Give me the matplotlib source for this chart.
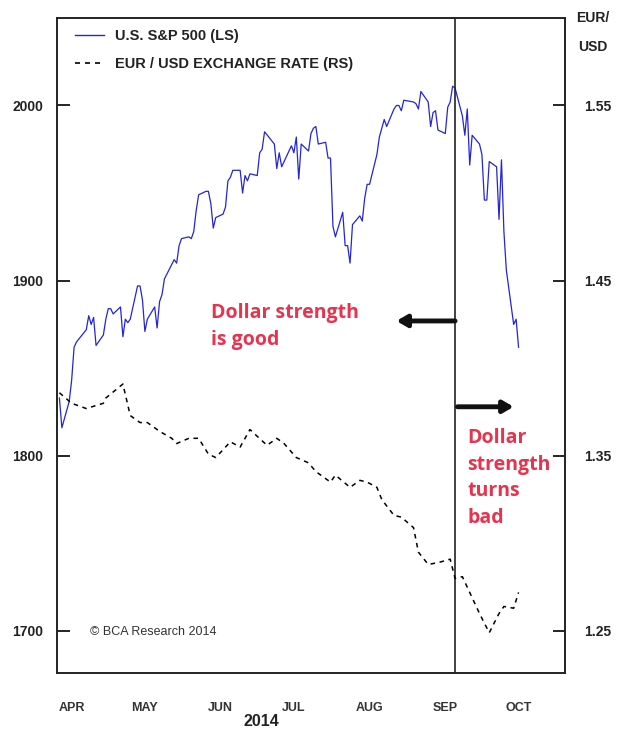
import matplotlib
matplotlib.use('Agg')
import matplotlib.pyplot as plt
from matplotlib.lines import Line2D
import pandas as pd

plt.rcParams['font.family'] = ['Liberation Sans', 'DejaVu Sans']

# S&P 500 daily closes, Apr 10 - Oct 15 2014
spx_dates = [
    '2014-04-10', '2014-04-11', '2014-04-14', '2014-04-15', '2014-04-16', '2014-04-17',
    '2014-04-21', '2014-04-22', '2014-04-23', '2014-04-24', '2014-04-25', '2014-04-28',
    '2014-04-29', '2014-04-30', '2014-05-01', '2014-05-02', '2014-05-05', '2014-05-06',
    '2014-05-07', '2014-05-08', '2014-05-09', '2014-05-12', '2014-05-13', '2014-05-14',
    '2014-05-15', '2014-05-16', '2014-05-19', '2014-05-20', '2014-05-21', '2014-05-22',
    '2014-05-23', '2014-05-27', '2014-05-28', '2014-05-29', '2014-05-30', '2014-06-02',
    '2014-06-03', '2014-06-04', '2014-06-05', '2014-06-06', '2014-06-09', '2014-06-10',
    '2014-06-11', '2014-06-12', '2014-06-13', '2014-06-16', '2014-06-17', '2014-06-18',
    '2014-06-19', '2014-06-20', '2014-06-23', '2014-06-24', '2014-06-25', '2014-06-26',
    '2014-06-27', '2014-06-30', '2014-07-01', '2014-07-02', '2014-07-03', '2014-07-07',
    '2014-07-08', '2014-07-09', '2014-07-10', '2014-07-11', '2014-07-14', '2014-07-15',
    '2014-07-16', '2014-07-17', '2014-07-18', '2014-07-21', '2014-07-22', '2014-07-23',
    '2014-07-24', '2014-07-25', '2014-07-28', '2014-07-29', '2014-07-30', '2014-07-31',
    '2014-08-01', '2014-08-04', '2014-08-05', '2014-08-06', '2014-08-07', '2014-08-08',
    '2014-08-11', '2014-08-12', '2014-08-13', '2014-08-14', '2014-08-15', '2014-08-18',
    '2014-08-19', '2014-08-20', '2014-08-21', '2014-08-22', '2014-08-25', '2014-08-26',
    '2014-08-27', '2014-08-28', '2014-08-29', '2014-09-02', '2014-09-03', '2014-09-04',
    '2014-09-05', '2014-09-08', '2014-09-09', '2014-09-10', '2014-09-11', '2014-09-12',
    '2014-09-15', '2014-09-16', '2014-09-17', '2014-09-18', '2014-09-19', '2014-09-22',
    '2014-09-23', '2014-09-24', '2014-09-25', '2014-09-26', '2014-09-29', '2014-09-30',
    '2014-10-01', '2014-10-02', '2014-10-03', '2014-10-06', '2014-10-07', '2014-10-08',
    '2014-10-09', '2014-10-10', '2014-10-13', '2014-10-14', '2014-10-15',
]
spx_values = [
    1833, 1816, 1831, 1843, 1862, 1865,
    1872, 1880, 1875, 1879, 1863, 1869,
    1878, 1884, 1884, 1881, 1885, 1868,
    1878, 1876, 1878, 1897, 1897, 1889,
    1871, 1878, 1885, 1873, 1888, 1892,
    1901, 1912, 1910, 1920, 1924, 1925,
    1924, 1928, 1940, 1949, 1951, 1951,
    1944, 1930, 1936, 1938, 1942, 1957,
    1959, 1963, 1963, 1950, 1960, 1957,
    1961, 1960, 1973, 1975, 1985, 1978,
    1964, 1973, 1965, 1968, 1977, 1973,
    1982, 1958, 1978, 1974, 1984, 1987,
    1988, 1978, 1979, 1970, 1970, 1931,
    1925, 1939, 1920, 1920, 1910, 1932,
    1937, 1934, 1947, 1955, 1955, 1972,
    1982, 1987, 1992, 1988, 1998, 2000,
    2000, 1997, 2003, 2002, 2001, 1998,
    2008, 2002, 1988, 1996, 1997, 1986,
    1984, 1999, 2002, 2011, 2010, 1994,
    1983, 1998, 1966, 1983, 1978, 1972,
    1946, 1946, 1968, 1965, 1935, 1969,
    1928, 1906, 1875, 1878, 1862,
]

# EUR/USD exchange rate
eur_dates = [
    '2014-04-10', '2014-04-15', '2014-04-21', '2014-04-28', '2014-04-29', '2014-05-06',
    '2014-05-09', '2014-05-13', '2014-05-16', '2014-05-21', '2014-05-26', '2014-05-28',
    '2014-06-02', '2014-06-06', '2014-06-10', '2014-06-13', '2014-06-19', '2014-06-23',
    '2014-06-27', '2014-07-04', '2014-07-08', '2014-07-11', '2014-07-16', '2014-07-21',
    '2014-07-24', '2014-07-30', '2014-08-01', '2014-08-07', '2014-08-11', '2014-08-14',
    '2014-08-18', '2014-08-20', '2014-08-25', '2014-08-28', '2014-09-02', '2014-09-04',
    '2014-09-08', '2014-09-12', '2014-09-17', '2014-09-19', '2014-09-22', '2014-09-25',
    '2014-09-29', '2014-10-03', '2014-10-07', '2014-10-09', '2014-10-13', '2014-10-15',
]
eur_values = [
    1.386, 1.380, 1.377, 1.380, 1.383, 1.391,
    1.373, 1.369, 1.369, 1.364, 1.360, 1.357,
    1.360, 1.360, 1.351, 1.349, 1.358, 1.355,
    1.365, 1.356, 1.360, 1.357, 1.349, 1.346,
    1.341, 1.335, 1.339, 1.332, 1.336, 1.335,
    1.332, 1.325, 1.316, 1.315, 1.309, 1.295,
    1.288, 1.289, 1.291, 1.280, 1.281, 1.272,
    1.260, 1.249, 1.260, 1.264, 1.263, 1.272,
]

month_ticks = ['2014-04-15', '2014-05-15', '2014-06-15', '2014-07-15',
               '2014-08-15', '2014-09-15', '2014-10-15']
month_labels = ['APR', 'MAY', 'JUN', 'JUL', 'AUG', 'SEP', 'OCT']
left_ticks = [1700, 1800, 1900, 2000]
right_ticks = [1.25, 1.35, 1.45, 1.55]

spx_x = pd.to_datetime(spx_dates)
eur_x = pd.to_datetime(eur_dates)

RED = '#E8334F'
BLUE = '#2424D8'
INK = '#222222'

fig = plt.figure(figsize=(6.22, 7.31), dpi=100)
ax = fig.add_axes([0.0916, 0.0793, 0.8167, 0.8962])
ax2 = ax.twinx()

ax.plot(spx_x, spx_values, color=BLUE, lw=0.9, zorder=3)
ax2.plot(eur_x, eur_values, color='black', lw=1.1, dashes=(3, 3), zorder=3)

ax.set_xlim(pd.Timestamp('2014-04-09'), pd.Timestamp('2014-11-03'))
ax.set_ylim(1676, 2050)
ax2.set_ylim(1.226, 1.600)

ax.set_xticks(pd.to_datetime(month_ticks))
ax.set_xticklabels(month_labels)
ax.tick_params(axis='x', length=0, pad=21, labelsize=9, colors='#333333')
for t in ax.get_xticklabels():
    t.set_fontweight('bold')

ax.set_yticks(left_ticks)
ax.set_yticklabels([str(v) for v in left_ticks])
ax.tick_params(axis='y', direction='in', length=9, width=1.2, pad=10,
               labelsize=10)
for t in ax.get_yticklabels():
    t.set_fontweight('bold')
    t.set_color(INK)

ax2.set_yticks(right_ticks)
ax2.set_yticklabels([f'{v:.2f}' for v in right_ticks])
ax2.tick_params(axis='y', direction='in', length=9, width=1.2, pad=14,
                labelsize=10)
for t in ax2.get_yticklabels():
    t.set_fontweight('bold')
    t.set_color(INK)

for a in (ax, ax2):
    for s in a.spines.values():
        s.set_linewidth(1.2)
        s.set_color(INK)

# vertical marker at the S&P peak
ax.axvline(pd.Timestamp('2014-09-19'), color=INK, lw=1.2, zorder=4)

handles = [Line2D([], [], color=BLUE, lw=1.0),
           Line2D([], [], color='black', lw=1.2, dashes=(3, 3))]
leg = ax.legend(handles, ['U.S. S&P 500 (LS)', 'EUR / USD EXCHANGE RATE (RS)'],
                loc='upper left', bbox_to_anchor=(0.01, 1.003), frameon=False,
                handlelength=2.0, handletextpad=0.7, labelspacing=0.95,
                prop={'weight': 'bold', 'size': 10.5})
for t in leg.get_texts():
    t.set_color(INK)

# annotations
ax.text(pd.Timestamp('2014-06-11'), 1887, 'Dollar strength\nis good', color=RED,
        fontsize=14, fontweight='bold', va='top', ha='left', linespacing=1.45,
        family=['Open Sans', 'DejaVu Sans'])
ax.annotate('', xy=(pd.Timestamp('2014-08-26'), 1877),
            xytext=(pd.Timestamp('2014-09-19'), 1877),
            arrowprops=dict(arrowstyle='-|>,head_length=0.6,head_width=0.35',
                            color='#111111', lw=3.5, shrinkA=0, shrinkB=0),
            zorder=5)
ax.annotate('', xy=(pd.Timestamp('2014-10-13'), 1828),
            xytext=(pd.Timestamp('2014-09-20'), 1828),
            arrowprops=dict(arrowstyle='-|>,head_length=0.6,head_width=0.35',
                            color='#111111', lw=3.5, shrinkA=0, shrinkB=0),
            zorder=5)
ax.text(pd.Timestamp('2014-09-24'), 1816, 'Dollar\nstrength\nturns\nbad', color=RED,
        fontsize=14, fontweight='bold', va='top', ha='left', linespacing=1.45,
        family=['Open Sans', 'DejaVu Sans'])

ax.text(0.065, 0.062, '\u00a9 BCA Research 2014', transform=ax.transAxes,
        fontsize=9, color='#333333', va='center', ha='left')

fig.text(261 / 622, 1 - 721 / 731, '2014', fontsize=11.5, fontweight='bold',
         ha='center', va='center', color=INK)
fig.text(593 / 622, 1 - 18 / 731, 'EUR/', fontsize=10, fontweight='bold',
         ha='center', va='center', color=INK)
fig.text(593 / 622, 1 - 47 / 731, 'USD', fontsize=10, fontweight='bold',
         ha='center', va='center', color=INK)

fig.savefig('out.png', dpi=100, facecolor='white')
